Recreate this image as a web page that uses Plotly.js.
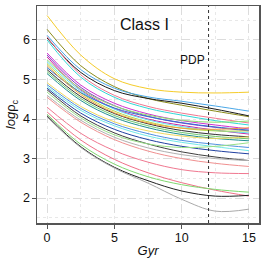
<!DOCTYPE html>
<html><head><meta charset="utf-8">
<script src="https://cdn.plot.ly/plotly-3.0.1.min.js"></script>
<style>html,body{margin:0;padding:0;background:#fff}#c{width:266px;height:266px}</style>
</head><body><div id="c"></div>
<script>
const ages = [0, 2.5, 5, 7.5, 10, 12.5, 15];
const pdpAge = 12;
const chartTitle = "Class I";
const pdpLabel = "PDP";
const xTicks = [0, 5, 10, 15];
const yTicks = [2, 3, 4, 5, 6];
const seriesColors = [
 "#f5cc2a","#8c8c1a","#4aa8e8","#1a1a1a","#f07890","#30d8d8","#d030d0","#8a3ac8","#d020a0",
 "#90e070","#60e0f0","#b8d840","#3070d0","#303030","#70c870","#209090","#f0a040","#f0d860",
 "#5090e0","#70e8e8","#2040a0","#404040","#98e088","#b0b0b0","#f09090","#f07890","#f07088",
 "#80d870","#222222","#aaaaaa"
];
const logRho = [
 [6.62,5.62,5.02,4.77,4.68,4.66,4.68],
 [6.27,5.35,4.82,4.52,4.35,4.20,4.06],
 [6.12,5.25,4.78,4.56,4.45,4.33,4.20],
 [6.05,5.18,4.72,4.52,4.40,4.25,4.08],
 [6.08,5.12,4.60,4.32,4.15,4.02,3.90],
 [6.00,5.06,4.55,4.27,4.10,3.96,3.85],
 [5.67,4.86,4.40,4.13,3.96,3.85,3.75],
 [5.62,4.80,4.34,4.07,3.90,3.79,3.70],
 [5.57,4.74,4.27,4.00,3.84,3.72,3.62],
 [5.50,4.76,4.33,4.10,3.97,3.92,3.95],
 [5.45,4.71,4.25,3.98,3.81,3.71,3.65],
 [5.40,4.66,4.20,3.93,3.77,3.70,3.70],
 [5.30,4.67,4.28,4.06,3.91,3.80,3.72],
 [5.25,4.57,4.14,3.88,3.71,3.61,3.55],
 [5.20,4.52,4.09,3.83,3.66,3.56,3.50],
 [5.15,4.47,4.04,3.78,3.61,3.51,3.45],
 [5.35,4.62,4.16,3.90,3.77,3.74,3.78],
 [4.92,4.32,3.93,3.70,3.57,3.51,3.55],
 [4.87,4.27,3.88,3.63,3.46,3.36,3.28],
 [4.82,4.22,3.83,3.57,3.41,3.30,3.20],
 [4.78,4.15,3.74,3.48,3.31,3.20,3.12],
 [4.74,4.08,3.65,3.37,3.17,3.04,2.95],
 [4.68,4.03,3.60,3.37,3.28,3.31,3.40],
 [4.60,3.97,3.54,3.27,3.10,3.00,2.95],
 [4.55,3.92,3.48,3.19,3.00,2.88,2.80],
 [4.30,3.64,3.20,2.91,2.72,2.64,2.62],
 [4.18,3.47,2.98,2.64,2.39,2.20,2.05],
 [4.12,3.36,2.86,2.54,2.34,2.22,2.15],
 [4.08,3.30,2.78,2.44,2.18,2.05,2.07],
 [4.05,3.28,2.76,2.38,1.97,1.67,1.72]
];
const traces = logRho.map((ys, i) => ({
  x: ages, y: ys, type: "scatter", mode: "lines",
  line: {color: seriesColors[i], width: 1, shape: "spline", smoothing: 1},
  showlegend: false, hoverinfo: "skip"
}));
const font = {family: "Liberation Sans, Arial, sans-serif", color: "#111"};
const layout = {
  width: 266, height: 266,
  margin: {l: 37, r: 7, t: 6, b: 43},
  paper_bgcolor: "#fff", plot_bgcolor: "#fff",
  font: Object.assign({size: 12}, font),
  xaxis: {
    range: [-0.75, 15.75], tickvals: xTicks, ticktext: xTicks.map(String),
    ticks: "outside", ticklen: 4, tickcolor: "#555", tickwidth: 1,
    showline: true, linecolor: "#555", linewidth: 1.5, mirror: true,
    showgrid: true, gridcolor: "#dcdcdc", griddash: "dash", gridwidth: 1,
    zeroline: false,
    minor: {dtick: 2.5, tick0: 0, showgrid: true, gridcolor: "#e8e8e8", griddash: "dot", ticks: ""},
    tickfont: {size: 12.5}, ticklabelstandoff: -2,
    title: {text: "<i>Gyr</i>", font: {size: 13}, standoff: 2}
  },
  yaxis: {
    range: [1.37, 6.86], tickvals: yTicks, ticktext: yTicks.map(String),
    ticks: "outside", ticklen: 4, tickcolor: "#555", tickwidth: 1,
    showline: true, linecolor: "#555", linewidth: 1.5, mirror: true,
    showgrid: true, gridcolor: "#dcdcdc", griddash: "dash", gridwidth: 1,
    zeroline: false,
    minor: {dtick: 0.5, tick0: 0, showgrid: true, gridcolor: "#e8e8e8", griddash: "dot", ticks: ""},
    tickfont: {size: 12.5}, ticklabelstandoff: -1,
    title: {text: "<i>log</i>ρ<sub>c</sub>", font: {size: 13}, standoff: 4}
  },
  shapes: [{type: "line", xref: "x", yref: "paper", x0: pdpAge, x1: pdpAge, y0: 0, y1: 1,
            line: {color: "#333", width: 1, dash: "dot"}}],
  annotations: [
    {text: chartTitle, xref: "paper", yref: "paper", x: 0.484, y: 0.965, xanchor: "center", yanchor: "top",
     showarrow: false, font: {size: 16, color: "#111"}},
    {text: pdpLabel, xref: "x", yref: "y", x: pdpAge - 0.15, y: 5.5, xanchor: "right", yanchor: "middle",
     showarrow: false, font: {size: 12, color: "#111"}}
  ]
};
Plotly.newPlot("c", traces, layout, {displayModeBar: false, staticPlot: true});
</script></body></html>
